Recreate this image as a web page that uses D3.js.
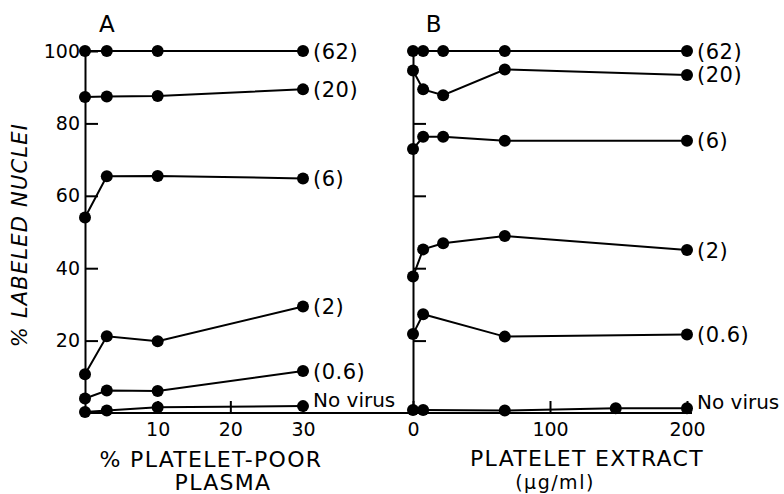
<!DOCTYPE html>
<html lang="en">
<head>
<meta charset="utf-8">
<script src="https://d3js.org/d3.v7.min.js"></script>
<style>
  body { margin: 0; background: #fff; }
  svg { display: block; }
  text { font-family: "DejaVu Sans", sans-serif; fill: #000; }
</style>
</head>
<body>
<div id="chart"></div>
<script>
// panel A: % platelet-poor plasma
var dosesA = [0, 3, 10, 30];
var a62 = [100, 100, 100, 100];
var a20 = [87.3, 87.4, 87.6, 89.4];
var a6 = [54, 65.4, 65.5, 64.8];
var a2 = [10.7, 21.2, 19.8, 29.4];
var a06 = [4, 6.2, 6.1, 11.6];
var aNone = [0.3, 0.7, 1.6, 1.9];

// panel B: platelet extract (ug/ml)
var dosesB = [0, 7.4, 22, 67, 200];
var b62 = [100, 100, 100, 100, 100];
var b20 = [94.6, 89.4, 87.8, 94.9, 93.4];
var b6 = [72.9, 76.3, 76.3, 75.2, 75.2];
var b2 = [37.7, 45.2, 46.9, 48.9, 45];
var dosesB06 = [0, 7.4, 67, 200];
var b06 = [21.8, 27.3, 21.1, 21.7];
var dosesBNone = [0, 7.4, 67, 148, 200];
var bNone = [0.8, 0.8, 0.7, 1.3, 1.3];

var seriesLabels = ["(62)", "(20)", "(6)", "(2)", "(0.6)", "No virus"];
var yTicks = [20, 40, 60, 80, 100];
var xTicksA = [10, 20, 30];
var xTicksB = [0, 100, 200];

var width = 784, height = 494;

var svg = d3.select("#chart").append("svg")
    .attr("width", width)
    .attr("height", height);

var y = d3.scaleLinear().domain([0, 100]).range([413, 51]);
var xA = d3.scaleLinear().domain([0, 30]).range([85, 303]);
var xB = d3.scaleLinear().domain([0, 200]).range([413, 687]);

function zip(xs, ys) {
    return xs.map(function (d, i) { return { x: d, y: ys[i] }; });
}

var panelA = [a62, a20, a6, a2, a06, aNone].map(function (v, i) {
    return { label: seriesLabels[i], pts: zip(dosesA, v) };
});
var panelB = [
    zip(dosesB, b62), zip(dosesB, b20), zip(dosesB, b6), zip(dosesB, b2),
    zip(dosesB06, b06), zip(dosesBNone, bNone)
].map(function (p, i) { return { label: seriesLabels[i], pts: p }; });

// shared baseline running under both panels
svg.append("line")
    .attr("x1", xA(0)).attr("x2", xB(200) + 5)
    .attr("y1", y(0)).attr("y2", y(0))
    .attr("stroke", "#000").attr("stroke-width", 2);

function drawAxes(x, xTicks, showYLabels) {
    var gy = svg.append("g")
        .attr("transform", "translate(" + x(0) + ",0)")
        .call(d3.axisLeft(y).tickValues(yTicks)
            .tickSizeInner(-13).tickSizeOuter(0).tickPadding(5));
    gy.select(".domain").attr("stroke-width", 2);
    gy.selectAll(".tick line").attr("stroke-width", 2);
    gy.selectAll("text").attr("font-size", 19).attr("font-family", null)
        .style("display", showYLabels ? null : "none");

    var gx = svg.append("g")
        .attr("transform", "translate(0," + y(0) + ")")
        .call(d3.axisBottom(x).tickValues(xTicks)
            .tickSizeInner(-12).tickSizeOuter(0).tickPadding(10));
    gx.select(".domain").remove();
    gx.selectAll(".tick line").attr("stroke-width", 2);
    gx.selectAll("text").attr("font-size", 19).attr("font-family", null);
}

function drawSeries(x, series) {
    var line = d3.line()
        .x(function (d) { return x(d.x); })
        .y(function (d) { return y(d.y); });

    var g = svg.append("g");
    var s = g.selectAll("g.series").data(series).enter()
        .append("g").attr("class", "series");

    s.append("path")
        .attr("d", function (d) { return line(d.pts); })
        .attr("fill", "none")
        .attr("stroke", "#000")
        .attr("stroke-width", 2);

    s.selectAll("circle").data(function (d) { return d.pts; }).enter()
        .append("circle")
        .attr("cx", function (d) { return x(d.x); })
        .attr("cy", function (d) { return y(d.y); })
        .attr("r", 6)
        .attr("fill", "#000");

    s.append("text")
        .attr("x", function (d) { return x(d.pts[d.pts.length - 1].x) + 10; })
        .attr("y", function (d) { return y(d.pts[d.pts.length - 1].y); })
        .attr("dy", function (d) { return d.label == "No virus" ? "0.05em" : "0.36em"; })
        .attr("font-size", function (d) { return d.label == "No virus" ? 20 : 21; })
        .attr("letter-spacing", function (d) { return d.label == "No virus" ? 0 : 0.5; })
        .text(function (d) { return d.label; });
}

drawAxes(xA, xTicksA, true);
drawAxes(xB, xTicksB, false);
drawSeries(xA, panelA);
drawSeries(xB, panelB);

// panel letters
svg.append("text").attr("x", xA(3)).attr("y", 32)
    .attr("text-anchor", "middle").attr("font-size", 23).text("A");
svg.append("text").attr("x", xB(15)).attr("y", 32)
    .attr("text-anchor", "middle").attr("font-size", 23).text("B");

// y title
svg.append("text")
    .attr("transform", "translate(27,235) rotate(-90)")
    .attr("text-anchor", "middle")
    .attr("font-size", 21)
    .attr("font-style", "italic")
    .attr("letter-spacing", 1.2)
    .text("% LABELED NUCLEI");

// x titles
svg.append("text").attr("x", 211).attr("y", 467)
    .attr("text-anchor", "middle").attr("font-size", 22).attr("letter-spacing", 1.3)
    .text("% PLATELET-POOR");
svg.append("text").attr("x", 223).attr("y", 490)
    .attr("text-anchor", "middle").attr("font-size", 22).attr("letter-spacing", 1.3)
    .text("PLASMA");
svg.append("text").attr("x", 587).attr("y", 466)
    .attr("text-anchor", "middle").attr("font-size", 22).attr("letter-spacing", 1.3)
    .text("PLATELET EXTRACT");
svg.append("text").attr("x", 555).attr("y", 489)
    .attr("text-anchor", "middle").attr("font-size", 19).attr("letter-spacing", 1.5)
    .text("(\u03bcg/ml)");
</script>
</body>
</html>
